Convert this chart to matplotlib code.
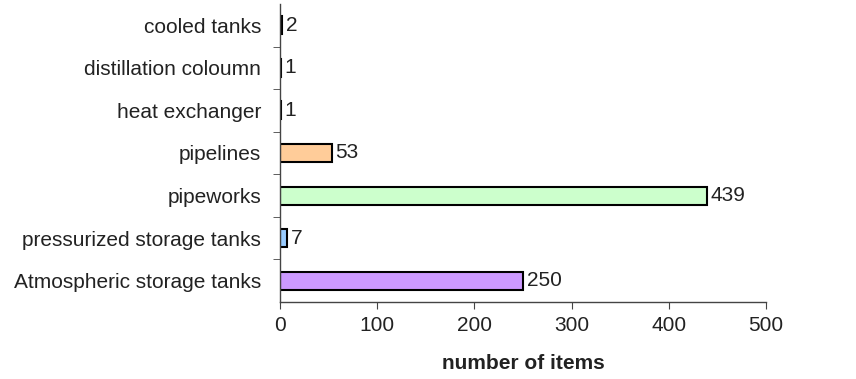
import matplotlib.pyplot as plt

plt.rcParams['font.family'] = ['Liberation Sans', 'DejaVu Sans']

# data, bottom to top
categories = ["Atmospheric storage tanks", "pressurized storage tanks", "pipeworks",
              "pipelines", "heat exchanger", "distillation coloumn", "cooled tanks"]
counts = [250, 7, 439, 53, 1, 1, 2]
colors = ["#CC99FF", "#99CCFF", "#CCFFCC", "#FFCC99", "#FFFFFF", "#FFFFFF", "#333366"]

fig = plt.figure(figsize=(8.56, 3.79), dpi=100)
ax = fig.add_axes([280 / 856, (379 - 302) / 379, (766 - 280) / 856, 298 / 379])

pos = list(range(len(categories)))
ax.barh(pos, counts, height=0.42, color=colors, edgecolor="black", linewidth=1.5)

for y, v in zip(pos, counts):
    ax.text(v + 4, y, str(v), va="center", ha="left", fontsize=15, color="#222222")

ax.set_xlim(0, 500)
ax.set_ylim(-0.5, len(categories) - 0.5)
ax.set_xticks([0, 100, 200, 300, 400, 500])
ax.tick_params(axis="x", labelsize=15, colors="#444444", labelcolor="#222222",
               length=5, pad=5)

ax.set_yticks(pos)
ax.set_yticklabels(categories, fontsize=15, color="#222222")
ax.tick_params(axis="y", length=0, pad=13.5)
ax.set_yticks([p + 0.5 for p in pos[:-1]], minor=True)
ax.tick_params(axis="y", which="minor", length=5, color="#444444")

for s in ["top", "right"]:
    ax.spines[s].set_visible(False)
for s in ["left", "bottom"]:
    ax.spines[s].set_color("#444444")
    ax.spines[s].set_linewidth(1)

ax.set_xlabel("number of items", fontsize=15, fontweight="bold", color="#222222", labelpad=14)

fig.savefig("out.png", dpi=100)
